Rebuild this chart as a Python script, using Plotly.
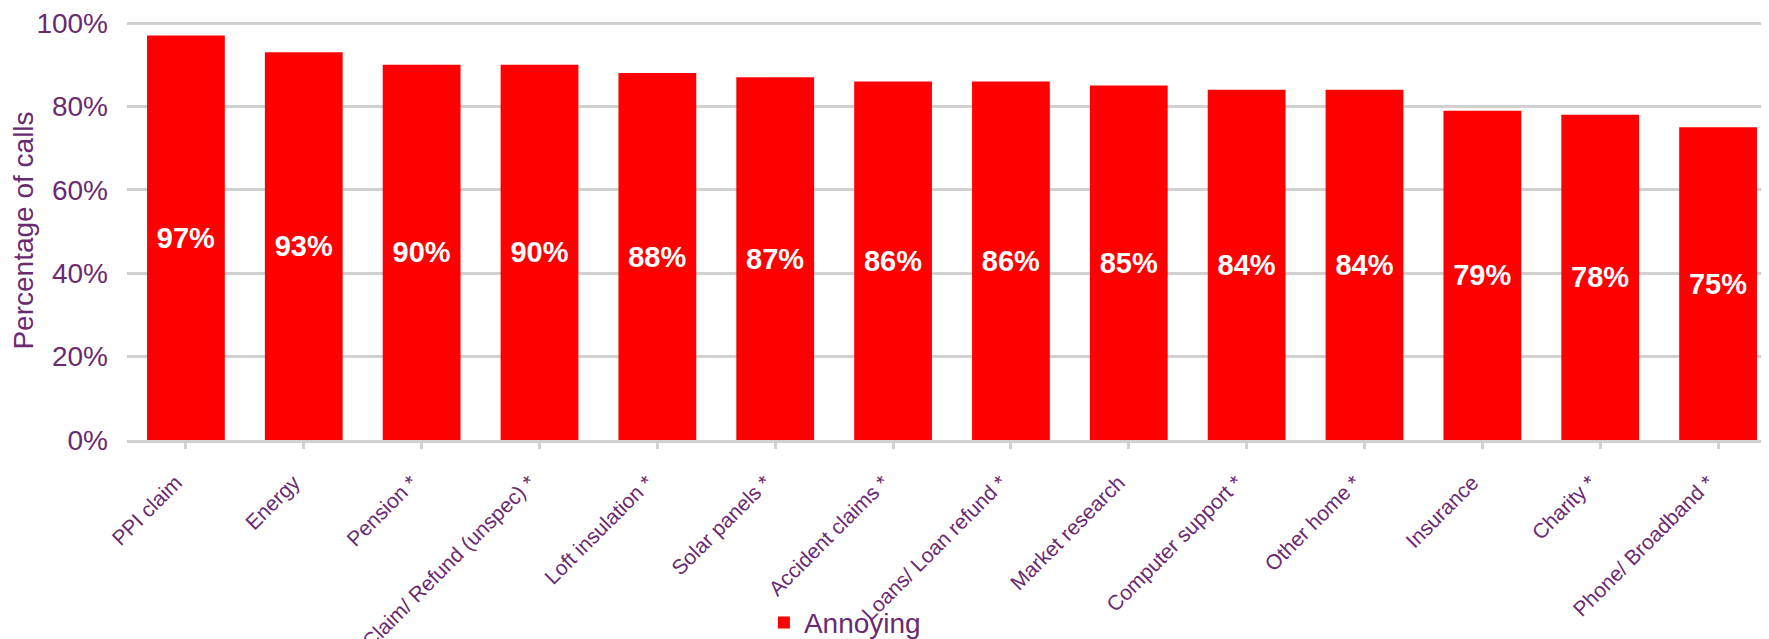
import plotly.graph_objects as go

categories = ["PPI claim", "Energy", "Pension *", "Claim/ Refund (unspec) *", "Loft insulation *",
              "Solar panels *", "Accident claims *", "Loans/ Loan refund *", "Market research",
              "Computer support *", "Other home *", "Insurance", "Charity *", "Phone/ Broadband *"]
annoying = [97, 93, 90, 90, 88, 87, 86, 86, 85, 84, 84, 79, 78, 75]
y_ticks = [0, 20, 40, 60, 80, 100]
y_tick_labels = ["0%", "20%", "40%", "60%", "80%", "100%"]

PURPLE = "#6a2a72"
GRID = "#d0d0d0"
FONT = "Liberation Sans, Arial, sans-serif"

fig = go.Figure()
fig.add_trace(go.Bar(
    x=list(range(len(categories))),
    y=annoying,
    name="Annoying",
    marker=dict(color="#ff0000", line=dict(width=0)),
    text=[f"{v}%" for v in annoying],
    textposition="inside",
    insidetextanchor="middle",
    textangle=0,
    textfont=dict(family=FONT, size=29, color="white", weight="bold"),
))

fig.update_layout(
    width=1769, height=639,
    margin=dict(l=119, r=0, t=13, b=207, autoexpand=False),
    plot_bgcolor="white", paper_bgcolor="white",
    bargap=0.34,
    font=dict(family=FONT, color=PURPLE),
    showlegend=True,
    legend=dict(orientation="h", x=0.386, xanchor="left",
                yref="container", y=0.038, yanchor="middle",
                font=dict(size=28, color=PURPLE, family=FONT),
                bgcolor="rgba(0,0,0,0)", itemwidth=30),
)
fig.update_xaxes(
    tickmode="array",
    tickvals=list(range(len(categories))),
    ticktext=categories,
    range=[-0.5, 13.5],
    tickangle=-45,
    tickfont=dict(size=21, color=PURPLE, family=FONT),
    showline=True, linecolor=GRID, linewidth=3,
    ticks="outside", tickson="boundaries", ticklen=6, tickwidth=3, tickcolor=GRID,
    showgrid=False, zeroline=False,
    ticklabelstandoff=13,
    ticklabelshift=-10,
    automargin=False,
)
fig.update_yaxes(
    range=[0, 100.5],
    tickmode="array", tickvals=y_ticks, ticktext=y_tick_labels,
    tickfont=dict(size=28, color=PURPLE, family=FONT),
    ticklabeloverflow="allow",
    showgrid=True, gridcolor=GRID, gridwidth=3,
    zeroline=False, showline=False, ticks="",
    ticklabelstandoff=18,
    title=dict(text="Percentage of calls", font=dict(size=28, color=PURPLE, family=FONT), standoff=10),
    automargin=False,
)

fig.write_html("out.html")
